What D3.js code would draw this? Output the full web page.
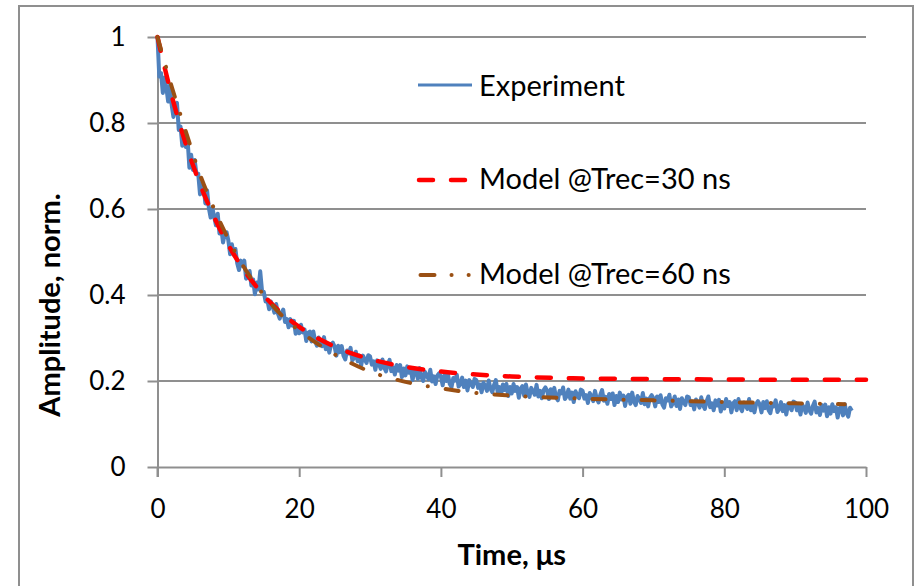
<!DOCTYPE html>
<html>
<head>
<meta charset="utf-8">
<script src="https://cdn.jsdelivr.net/npm/d3@7"></script>
<style>
  html, body { margin: 0; padding: 0; background: #fff; }
  svg { display: block; }
  text { font-family: Lato, "Open Sans", sans-serif; fill: #000; }
</style>
</head>
<body>
<svg id="chart" width="916" height="586"></svg>
<script>
// ---------------- DATA ----------------
const xTicks = [0, 20, 40, 60, 80, 100];
const yTicks = [0, 0.2, 0.4, 0.6, 0.8, 1];
const yTickLabels = ["0", "0.2", "0.4", "0.6", "0.8", "1"];
const xTitle = "Time, μs";
const yTitle = "Amplitude, norm.";
const seriesNames = ["Experiment", "Model @Trec=30 ns", "Model @Trec=60 ns"];

const experimentStep = 0.25;
const experimentValues = [
  1.00, .908, .916, .87, .906, .882, .85, .888, .842, .814, .837, .847, .784, .792, .747, .781, .744, .761, .696, .726,
  .691, .714, .680, .682, .634, .656, .655, .613, .643, .602, .58, .602, .582, .562, .589, .543, .555, .522, .544, .546,
  .527, .495, .518, .494, .507, .474, .458, .48, .468, .48, .438, .441, .456, .422, .436, .402, .429, .413, .455, .41,
  .407, .385, .389, .367, .385, .374, .359, .379, .357, .345, .359, .366, .337, .344, .325, .344, .329, .34, .31, .328,
  .311, .331, .313, .32, .293, .312, .315, .292, .315, .293, .282, .301, .291, .281, .302, .274, .285, .266, .285, .289,
  .28, .259, .282, .267, .281, .259, .25, .271, .264, .277, .248, .254, .268, .246, .259, .236, .259, .25, .242, .26,
  .257, .238, .246, .226, .248, .24, .228, .25, .231, .222, .239, .249, .223, .232, .215, .237, .224, .237, .209, .229,
  .213, .234, .219, .227, .202, .222, .227, .205, .23, .209, .2, .221, .213, .204, .226, .199, .211, .193, .213, .218,
  .21, .19, .214, .2, .215, .193, .186, .207, .201, .214, .187, .193, .208, .186, .201, .178, .202, .193, .186, .205,
  .202, .184, .192, .174, .196, .189, .177, .201, .182, .174, .191, .202, .176, .186, .169, .192, .179, .193, .165, .186,
  .171, .193, .177, .186, .161, .182, .188, .166, .192, .172, .163, .184, .176, .168, .191, .164, .177, .16, .179, .185,
  .177, .158, .181, .168, .184, .162, .155, .177, .171, .185, .158, .164, .18, .159, .173, .151, .176, .167, .16, .18,
  .177, .159, .167, .149, .172, .165, .153, .177, .159, .15, .168, .179, .154, .163, .147, .17, .158, .171, .144, .165,
  .151, .173, .157, .166, .142, .163, .168, .147, .173, .152, .144, .165, .158, .149, .172, .146, .159, .141, .161, .167,
  .16, .141, .164, .151, .167, .146, .138, .16, .155, .168, .141, .148, .164, .142, .157, .135, .16, .151, .144, .164,
  .162, .144, .152, .134, .157, .15, .138, .162, .144, .135, .153, .164, .139, .148, .132, .155, .143, .156, .129, .15,
  .136, .158, .142, .151, .127, .148, .153, .132, .158, .138, .13, .15, .143, .135, .158, .132, .144, .127, .147, .153,
  .146, .127, .151, .137, .153, .132, .125, .147, .141, .155, .128, .135, .151, .13, .144, .122, .147, .139, .132, .152,
  .15, .132, .14, .122, .145, .138, .126, .15, .132, .124, .142, .152, .127, .137, .121, .144, .131, .145, .118, .139,
  .124, .146, .13, .139, .115, .136, .141, .12, .146, .126, .117, .138, .131
];

// Model @Trec=30 ns
const model30Time  = [0, 2, 4, 6, 8, 10, 12, 15, 18, 21, 25, 30, 35, 40, 45, 50, 60, 70, 80, 90, 100];
const model30Value = [1.0, .864, .751, .658, .581, .516, .463, .399, .351, .315, .280, .251, .233, .222, .215, .2105, .206, .2045, .2035, .203, .203];

// Model @Trec=60 ns
const model60Time  = [0, 2, 4, 6, 8, 10, 12, 15, 18, 21, 25, 30, 35, 40, 45, 50, 60, 70, 80, 90, 97];
const model60Value = [1.0, .885, .78, .68, .60, .53, .47, .40, .345, .305, .262, .222, .198, .183, .172, .166, .159, .155, .151, .148, .146];

// ---------------- CHART ----------------
const svg = d3.select("#chart");
const x = d3.scaleLinear().domain([0, 100]).range([157.5, 866]);
const y = d3.scaleLinear().domain([0, 1]).range([467, 37]);

const gridColor = "#8f8f8f";

// outer frame
svg.append("rect")
  .attr("x", 19).attr("y", 6).attr("width", 894).attr("height", 600)
  .attr("fill", "none").attr("stroke", "#8f8f8f").attr("stroke-width", 2);

// gridlines
svg.append("g").selectAll("line").data(yTicks.filter(d => d > 0)).join("line")
  .attr("x1", x(0)).attr("x2", x(100))
  .attr("y1", d => y(d)).attr("y2", d => y(d))
  .attr("stroke", gridColor).attr("stroke-width", 2);

// y axis
const yAxis = svg.append("g").attr("transform", `translate(${x(0)},0)`)
  .call(d3.axisLeft(y).tickValues(yTicks).tickFormat((d, i) => yTickLabels[i])
    .tickSizeInner(10).tickSizeOuter(0).tickPadding(22));
// x axis
const xAxis = svg.append("g").attr("transform", `translate(0,${y(0)})`)
  .call(d3.axisBottom(x).tickValues(xTicks).tickFormat(d3.format("d"))
    .tickSizeInner(10).tickSizeOuter(0).tickPadding(23));

[yAxis, xAxis].forEach(g => {
  g.selectAll("path.domain").attr("stroke", gridColor).attr("stroke-width", 2);
  g.selectAll(".tick line").attr("stroke", gridColor).attr("stroke-width", 2);
  g.selectAll(".tick text").attr("font-family", "Lato, sans-serif").attr("font-size", 26).attr("fill", "#000");
});
// extend y axis line down to x tick length
svg.append("line").attr("x1", x(0)).attr("x2", x(0)).attr("y1", y(0)).attr("y2", y(0) + 10)
  .attr("stroke", gridColor).attr("stroke-width", 2);

// series
const expData = experimentValues.map((v, i) => [i * experimentStep, v]);
const m30 = model30Time.map((t, i) => [t, model30Value[i]]);
const m60 = model60Time.map((t, i) => [t, model60Value[i]]);

const lineLin = d3.line().x(d => x(d[0])).y(d => y(d[1]));
const lineSmooth = d3.line().x(d => x(d[0])).y(d => y(d[1])).curve(d3.curveMonotoneX);

const colBlue = "#4f81bd", colRed = "#ff0000", colBrown = "#9a5014";

svg.append("path").datum(expData).attr("d", lineLin)
  .attr("fill", "none").attr("stroke", colBlue).attr("stroke-width", 4).attr("stroke-linejoin", "round");
svg.append("path").datum(m30).attr("d", lineSmooth)
  .attr("fill", "none").attr("stroke", colRed).attr("stroke-width", 4.5)
  .attr("stroke-dasharray", "14,18").attr("stroke-linecap", "round");
svg.append("path").datum(m60).attr("d", lineSmooth)
  .attr("fill", "none").attr("stroke", colBrown).attr("stroke-width", 4)
  .attr("stroke-dasharray", "13,18,0.1,18").attr("stroke-linecap", "round");

// legend
const legendY = [85, 180, 275];
const legendBase = [96, 189, 284];
svg.append("line").attr("x1", 418).attr("x2", 472).attr("y1", legendY[0]).attr("y2", legendY[0])
  .attr("stroke", colBlue).attr("stroke-width", 3);
svg.append("line").attr("x1", 419).attr("x2", 467).attr("y1", legendY[1]).attr("y2", legendY[1])
  .attr("stroke", colRed).attr("stroke-width", 4.5).attr("stroke-dasharray", "14,18").attr("stroke-linecap", "round");
svg.append("line").attr("x1", 420.5).attr("x2", 470).attr("y1", legendY[2]).attr("y2", legendY[2])
  .attr("stroke", colBrown).attr("stroke-width", 4).attr("stroke-dasharray", "14,17,0.1,17,0.1,100").attr("stroke-linecap", "round");
svg.append("g").selectAll("text").data(seriesNames).join("text")
  .attr("x", 479).attr("y", (d, i) => legendBase[i])
  .attr("font-size", 29).text(d => d);

// axis titles
svg.append("text").attr("x", x(50)).attr("y", 565).attr("text-anchor", "middle")
  .attr("font-size", 29).attr("font-weight", "bold").text(xTitle);
svg.append("text").attr("transform", "translate(60,305) rotate(-90)").attr("text-anchor", "middle")
  .attr("font-size", 29).attr("font-weight", "bold").text(yTitle);
</script>
</body>
</html>
